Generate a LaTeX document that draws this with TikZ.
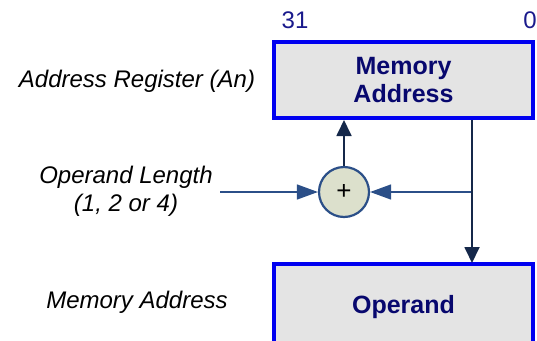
\documentclass[tikz,border=0pt]{standalone}
\usepackage{fontspec}
\setmainfont{Liberation Sans}
\usetikzlibrary{arrows.meta}
\definecolor{regblue}{HTML}{0000F0}
\definecolor{regfill}{HTML}{E4E4E4}
\definecolor{navytext}{HTML}{08086E}
\definecolor{bitblue}{HTML}{1A1A8C}
\definecolor{addfill}{HTML}{DCE0CC}
\definecolor{addedge}{HTML}{2B4F88}
\definecolor{flowdark}{HTML}{15284A}
\definecolor{flowmid}{HTML}{2B4F88}
\tikzset{
  regbox/.style={draw=regblue, fill=regfill, line width=4pt, rectangle,
    text=navytext, font=\fontsize{25}{28}\selectfont\bfseries, align=center,
    inner sep=0pt},
  adder/.style={draw=addedge, fill=addfill, line width=2.2pt, circle,
    minimum size=50pt, inner sep=0pt, text=black, font=\fontsize{26}{28}\selectfont},
  sidelabel/.style={font=\fontsize{24}{28}\selectfont\itshape, align=center, text=black},
  bitlabel/.style={font=\fontsize{24}{28}\selectfont, text=bitblue},
  hflow/.style={draw=flowmid, line width=1.4pt, -{Triangle[length=21pt,width=15pt]}},
  vflow/.style={draw=flowdark, line width=1.8pt, -{Triangle[length=16pt,width=15pt]}},
}
\begin{document}
\begin{tikzpicture}[x=1pt, y=-1pt]
  \useasboundingbox (0,0) rectangle (537,340);

  % address register and the operand it points to
  \node[regbox, minimum width=259pt, minimum height=76pt] (mem) at (403.5,80) {Memory\\Address};
  \node[regbox, minimum width=259pt, minimum height=86pt] (opd) at (403.5,307) {Operand};

  % bit numbering above the register
  \node[bitlabel] (b31) at (295,20) {31};
  \node[bitlabel] (b0) at (530,20) {0};

  % side captions
  \node[sidelabel] (lreg) at (137,81) {Address Register (An)};
  \node[sidelabel] (llen) at (126,191) {Operand Length\\(1, 2 or 4)};
  \node[sidelabel] (lmem) at (137,302) {Memory Address};

  % adder
  \node[adder] (plus) at (344,192) {+};

  % connectors
  \coordinate (lin) at (220,192);
  \coordinate (tap) at (472,192);
  \draw[hflow] (lin) -- (plus.west);
  \draw[hflow] (tap) -- (plus.east);
  \draw[vflow] (plus.north) -- (plus |- mem.south);
  \draw[vflow] (mem.south -| tap) -- ([yshift=-1pt]opd.north -| tap);
\end{tikzpicture}
\end{document}
